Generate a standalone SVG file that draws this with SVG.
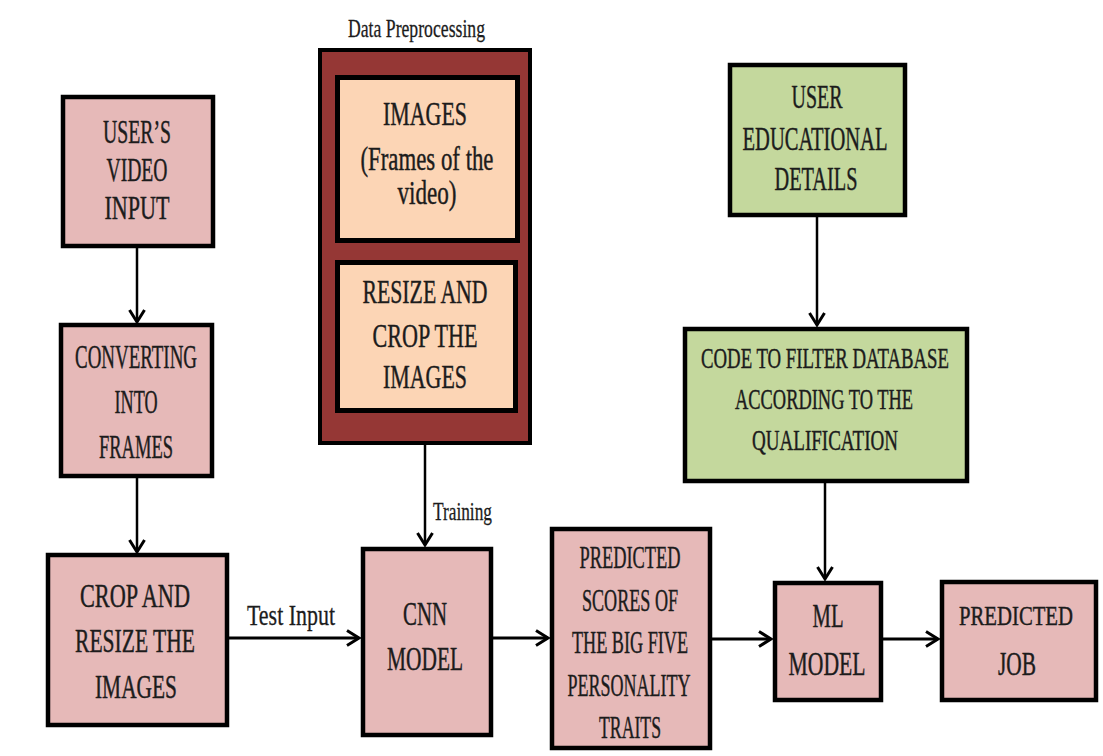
<svg xmlns="http://www.w3.org/2000/svg" width="1103" height="756" viewBox="0 0 1103 756">
<defs>
<style>
.bg{fill:#ffffff}
.pink{fill:#e6b9b8;stroke:#000;stroke-width:4.5}
.green{fill:#c4d89d;stroke:#000;stroke-width:4.5}
.dark{fill:#953735;stroke:#000;stroke-width:4}
.peach{fill:#fcd5b5;stroke:#000;stroke-width:5}
.t{font-family:"Liberation Serif","Times New Roman",serif;fill:#1c1c1c;stroke:#1c1c1c;stroke-width:0.45;text-anchor:middle}
.t34{font-size:34px}
.t32{font-size:32px}
.t30{font-size:30px}
.t28{font-size:28px}
.lbl{font-family:"Liberation Serif","Times New Roman",serif;fill:#1c1c1c;stroke:#1c1c1c;stroke-width:0.3}
.c{fill:none;stroke:#000;stroke-width:2.5}
.ch{fill:none;stroke:#000;stroke-width:3}
</style>
<marker id="ah" markerUnits="userSpaceOnUse" markerWidth="16" markerHeight="18" viewBox="-1 -9 16 18" refX="12" refY="0" orient="auto">
<path d="M0,-7.5 L12,0 L0,7.5" fill="none" stroke="#000" stroke-width="3"/>
</marker>
</defs>
<rect class="bg" x="0" y="0" width="1103" height="756"/>

<g id="connectors">
<line class="c" x1="137" y1="248" x2="137" y2="322" marker-end="url(#ah)"/>
<line class="c" x1="137" y1="478" x2="137" y2="552" marker-end="url(#ah)"/>
<line class="ch" x1="229" y1="638" x2="359" y2="638" marker-end="url(#ah)"/>
<line class="c" x1="425" y1="445" x2="425" y2="545" marker-end="url(#ah)"/>
<line class="ch" x1="493" y1="638" x2="548" y2="638" marker-end="url(#ah)"/>
<line class="ch" x1="712" y1="639" x2="771" y2="639" marker-end="url(#ah)"/>
<line class="ch" x1="883" y1="639" x2="938" y2="639" marker-end="url(#ah)"/>
<line class="c" x1="817" y1="217" x2="817" y2="325" marker-end="url(#ah)"/>
<line class="c" x1="825" y1="483" x2="825" y2="579" marker-end="url(#ah)"/>
<text class="lbl" x="247" y="625" font-size="30" textLength="88" lengthAdjust="spacingAndGlyphs">Test Input</text>
<text class="lbl" x="433" y="520" font-size="26" textLength="59" lengthAdjust="spacingAndGlyphs">Training</text>
</g>

<g id="user-video-input">
<rect class="pink" x="63" y="97" width="150" height="149"/>
<text class="t t34" x="137" y="143" textLength="68" lengthAdjust="spacingAndGlyphs">USER’S</text>
<text class="t t34" x="137" y="181" textLength="61" lengthAdjust="spacingAndGlyphs">VIDEO</text>
<text class="t t34" x="137" y="219" textLength="65" lengthAdjust="spacingAndGlyphs">INPUT</text>
</g>

<g id="converting-into-frames">
<rect class="pink" x="61" y="325" width="151" height="151"/>
<text class="t t34" x="136" y="368" textLength="122" lengthAdjust="spacingAndGlyphs">CONVERTING</text>
<text class="t t34" x="136" y="413" textLength="43" lengthAdjust="spacingAndGlyphs">INTO</text>
<text class="t t34" x="136" y="458" textLength="74" lengthAdjust="spacingAndGlyphs">FRAMES</text>
</g>

<g id="crop-resize">
<rect class="pink" x="48" y="555" width="179" height="170"/>
<text class="t t34" x="135" y="607" textLength="110" lengthAdjust="spacingAndGlyphs">CROP AND</text>
<text class="t t34" x="135" y="652" textLength="120" lengthAdjust="spacingAndGlyphs">RESIZE THE</text>
<text class="t t34" x="136" y="698" textLength="82" lengthAdjust="spacingAndGlyphs">IMAGES</text>
</g>

<g id="data-preprocessing">
<text class="lbl" x="348" y="37" font-size="26" textLength="137" lengthAdjust="spacingAndGlyphs">Data Preprocessing</text>
<rect class="dark" x="320" y="50" width="210" height="393"/>
</g>

<g id="images-frames">
<rect class="peach" x="337.5" y="77.5" width="180" height="163"/>
<text class="t t34" x="425" y="125" textLength="84" lengthAdjust="spacingAndGlyphs">IMAGES</text>
<text class="t t34" x="427" y="170" textLength="133" lengthAdjust="spacingAndGlyphs">(Frames of the</text>
<text class="t t34" x="427" y="204" textLength="59" lengthAdjust="spacingAndGlyphs">video)</text>
</g>

<g id="resize-crop">
<rect class="peach" x="337.5" y="262.5" width="178" height="148"/>
<text class="t t34" x="425" y="303" textLength="125" lengthAdjust="spacingAndGlyphs">RESIZE AND</text>
<text class="t t34" x="425" y="347" textLength="105" lengthAdjust="spacingAndGlyphs">CROP THE</text>
<text class="t t34" x="425" y="388" textLength="84" lengthAdjust="spacingAndGlyphs">IMAGES</text>
</g>

<g id="cnn-model">
<rect class="pink" x="363" y="549" width="128" height="186"/>
<text class="t t34" x="425" y="625" textLength="44" lengthAdjust="spacingAndGlyphs">CNN</text>
<text class="t t34" x="425" y="670" textLength="76" lengthAdjust="spacingAndGlyphs">MODEL</text>
</g>

<g id="predicted-scores">
<rect class="pink" x="552" y="529" width="158" height="219"/>
<text class="t t32" x="630" y="568" textLength="101" lengthAdjust="spacingAndGlyphs">PREDICTED</text>
<text class="t t32" x="630" y="611" textLength="96" lengthAdjust="spacingAndGlyphs">SCORES OF</text>
<text class="t t32" x="630" y="653" textLength="116" lengthAdjust="spacingAndGlyphs">THE BIG FIVE</text>
<text class="t t32" x="629" y="696" textLength="123" lengthAdjust="spacingAndGlyphs">PERSONALITY</text>
<text class="t t32" x="630" y="738" textLength="62" lengthAdjust="spacingAndGlyphs">TRAITS</text>
</g>

<g id="ml-model">
<rect class="pink" x="775" y="583" width="106" height="117"/>
<text class="t t34" x="828" y="627" textLength="31" lengthAdjust="spacingAndGlyphs">ML</text>
<text class="t t34" x="827" y="675" textLength="77" lengthAdjust="spacingAndGlyphs">MODEL</text>
</g>

<g id="predicted-job">
<rect class="pink" x="942" y="582" width="154" height="118"/>
<text class="t t28" x="1016" y="625" textLength="114" lengthAdjust="spacingAndGlyphs">PREDICTED</text>
<text class="t t34" x="1017" y="675" textLength="38" lengthAdjust="spacingAndGlyphs">JOB</text>
</g>

<g id="user-educational-details">
<rect class="green" x="730" y="65" width="175" height="150"/>
<text class="t t34" x="817" y="108" textLength="51" lengthAdjust="spacingAndGlyphs">USER</text>
<text class="t t34" x="815" y="150" textLength="145" lengthAdjust="spacingAndGlyphs">EDUCATIONAL</text>
<text class="t t34" x="816" y="190" textLength="83" lengthAdjust="spacingAndGlyphs">DETAILS</text>
</g>

<g id="code-filter">
<rect class="green" x="685" y="329" width="282" height="152"/>
<text class="t t30" x="825" y="368" textLength="248" lengthAdjust="spacingAndGlyphs">CODE TO FILTER DATABASE</text>
<text class="t t30" x="824" y="409" textLength="178" lengthAdjust="spacingAndGlyphs">ACCORDING TO THE</text>
<text class="t t30" x="825" y="450" textLength="146" lengthAdjust="spacingAndGlyphs">QUALIFICATION</text>
</g>
</svg>
